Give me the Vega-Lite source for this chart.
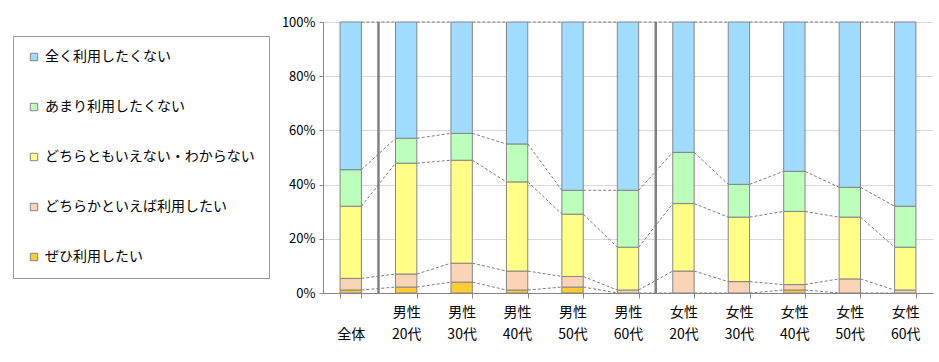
{
  "$schema": "https://vega.github.io/schema/vega-lite/v6.json",
  "autosize": {"type": "none"},
  "padding": {"left": 323, "top": 22, "right": 6, "bottom": 69},
  "width": 610,
  "height": 271,
  "background": "white",
  "config": {
    "view": {"stroke": null},
    "font": "Noto Sans CJK JP",
    "axis": {"labelFont": "Noto Sans CJK JP", "labelColor": "#000", "labelFontSize": 13}
  },
  "datasets": {
    "main": [
      {"cat": "全体", "ぜひ利用したい": 1.1, "どちらかといえば利用したい": 4.3, "どちらともいえない・わからない": 26.6, "あまり利用したくない": 13.5, "全く利用したくない": 54.5},
      {"cat": "男性20代", "ぜひ利用したい": 2.2, "どちらかといえば利用したい": 4.8, "どちらともいえない・わからない": 40.9, "あまり利用したくない": 9.2, "全く利用したくない": 42.9},
      {"cat": "男性30代", "ぜひ利用したい": 4.0, "どちらかといえば利用したい": 7.0, "どちらともいえない・わからない": 38.0, "あまり利用したくない": 9.9, "全く利用したくない": 41.1},
      {"cat": "男性40代", "ぜひ利用したい": 1.1, "どちらかといえば利用したい": 7.0, "どちらともいえない・わからない": 32.9, "あまり利用したくない": 14.0, "全く利用したくない": 45.0},
      {"cat": "男性50代", "ぜひ利用したい": 2.2, "どちらかといえば利用したい": 3.9, "どちらともいえない・わからない": 23.0, "あまり利用したくない": 8.8, "全く利用したくない": 62.1},
      {"cat": "男性60代", "ぜひ利用したい": 0, "どちらかといえば利用したい": 1.1, "どちらともいえない・わからない": 15.8, "あまり利用したくない": 21.0, "全く利用したくない": 62.1},
      {"cat": "女性20代", "ぜひ利用したい": 0, "どちらかといえば利用したい": 8.1, "どちらともいえない・わからない": 24.9, "あまり利用したくない": 18.9, "全く利用したくない": 48.1},
      {"cat": "女性30代", "ぜひ利用したい": 0, "どちらかといえば利用したい": 4.2, "どちらともいえない・わからない": 23.8, "あまり利用したくない": 12.1, "全く利用したくない": 59.9},
      {"cat": "女性40代", "ぜひ利用したい": 1.1, "どちらかといえば利用したい": 2.0, "どちらともいえない・わからない": 27.0, "あまり利用したくない": 14.8, "全く利用したくない": 55.1},
      {"cat": "女性50代", "ぜひ利用したい": 0, "どちらかといえば利用したい": 5.2, "どちらともいえない・わからない": 22.8, "あまり利用したくない": 11.0, "全く利用したくない": 61.0},
      {"cat": "女性60代", "ぜひ利用したい": 0, "どちらかといえば利用したい": 1.1, "どちらともいえない・わからない": 15.8, "あまり利用したくない": 15.1, "全く利用したくない": 68.0}
    ],
    "seps": [{"cat": "全体"}, {"cat": "男性60代"}]
  },
  "data": {"name": "main"},
  "transform": [
    {"window": [{"op": "row_number", "as": "ci"}]},
    {"fold": ["ぜひ利用したい", "どちらかといえば利用したい", "どちらともいえない・わからない", "あまり利用したくない", "全く利用したくない"], "as": ["resp", "value"]},
    {"window": [{"op": "row_number", "as": "rk"}], "groupby": ["cat"], "sort": [{"field": "ci"}]}
  ],
  "encoding": {
    "x": {
      "field": "cat", "type": "nominal", "sort": null, "title": null,
      "scale": {"paddingInner": 0.615, "paddingOuter": 0.3075},
      "axis": {
        "labelAngle": 0, "tickBand": "extent", "domainColor": "#868686", "tickColor": "#868686",
        "tickSize": 5, "labelPadding": 7, "labelLineHeight": 22, "labelBaseline": "top", "labelFontSize": 14,
        "labelExpr": "datum.label == '全体' ? [' ', '全体'] : [substring(datum.label, 0, 2), substring(datum.label, 2)]"
      }
    }
  },
  "layer": [
    {
      "mark": {"type": "bar", "stroke": "#868686", "strokeWidth": 1},
      "encoding": {
        "y": {
          "field": "value", "type": "quantitative", "stack": "zero", "title": null,
          "scale": {"domain": [0, 100], "nice": false},
          "axis": {
            "values": [0, 20, 40, 60, 80, 100], "labelExpr": "datum.value + '%'",
            "gridColor": "#d9d9d9", "domainColor": "#868686", "tickColor": "#868686", "tickSize": 4, "labelPadding": 4
          }
        },
        "order": {"field": "rk", "type": "quantitative", "sort": "ascending"},
        "color": {
          "field": "resp", "type": "nominal", "title": null,
          "scale": {
            "domain": ["全く利用したくない", "あまり利用したくない", "どちらともいえない・わからない", "どちらかといえば利用したい", "ぜひ利用したい"],
            "range": ["#A0DCFF", "#BBFFBB", "#FFFF88", "#FBD3B5", "#FFCC33"]
          },
          "legend": {
            "orient": "none", "legendX": -310, "legendY": 14,
            "symbolType": "square", "symbolSize": 55, "symbolStrokeColor": "#868686", "symbolStrokeWidth": 1,
            "labelFont": "Noto Sans CJK JP", "labelFontSize": 14, "labelColor": "#000", "labelLimit": 300,
            "rowPadding": 36, "padding": 14, "strokeColor": "#999", "fillColor": "white", "labelOffset": 4
          }
        }
      }
    },
    {
      "transform": [
        {"stack": "value", "groupby": ["cat"], "sort": [{"field": "rk"}], "as": ["s0", "s1"]},
        {"window": [{"op": "lead", "field": "s1", "as": "n1"}, {"op": "lead", "field": "cat", "as": "ncat"}], "groupby": ["resp"], "sort": [{"field": "ci"}]},
        {"filter": "datum.ncat != null"}
      ],
      "mark": {"type": "rule", "color": "#7f7f7f", "strokeDash": [3, 2], "strokeWidth": 1},
      "encoding": {
        "x": {"field": "cat", "type": "nominal", "sort": null, "bandPosition": 1},
        "x2": {"field": "ncat", "bandPosition": 0},
        "y": {"field": "s1", "type": "quantitative"},
        "y2": {"field": "n1"}
      }
    },
    {
      "data": {"name": "seps"},
      "transform": [],
      "mark": {"type": "rule", "color": "#808080", "strokeWidth": 2.5},
      "encoding": {
        "x": {"field": "cat", "type": "nominal", "sort": null, "bandPosition": 1.8},
        "y": {"datum": 0, "type": "quantitative"},
        "y2": {"datum": 100}
      }
    }
  ]
}
